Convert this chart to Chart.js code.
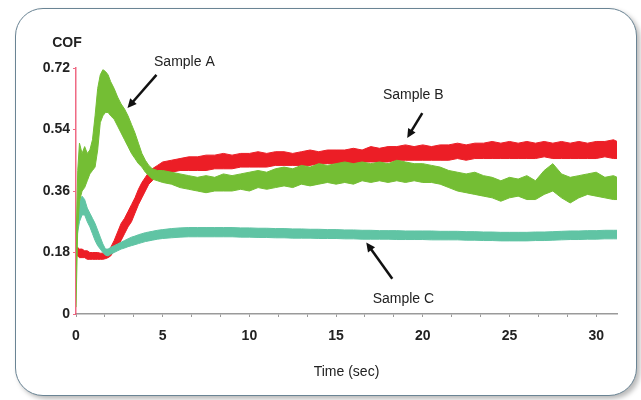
<!DOCTYPE html>
<html>
<head>
<meta charset="utf-8">
<script src="https://cdn.jsdelivr.net/npm/chart.js@4.4.0/dist/chart.umd.min.js"></script>
<style>
  body { margin: 0; background: #fff; }
  #wrap { position: relative; width: 641px; height: 400px; overflow: hidden; }
  #frame {
    position: absolute; left: 15px; top: 8px; width: 620px; height: 386px;
    border: 1.5px solid #6a8494; border-radius: 28px; background: #fff;
    box-shadow: 3px 3px 5px rgba(0,0,0,0.28);
  }
  #cof { position: absolute; left: 0; top: 0; }
</style>
</head>
<body>
<div id="wrap">
  <div id="frame"></div>
  <canvas id="cof" width="641" height="400"></canvas>
</div>
<script>
// time (sec)
const time = [
  0, 0.1, 0.2, 0.35, 0.5, 0.65, 0.8, 0.95, 1.1, 1.25, 1.4, 1.55, 1.7, 1.85,
  2.0, 2.2, 2.4, 2.6, 2.8, 3.0, 3.2, 3.4, 3.6, 3.8, 4.0, 4.2, 4.4, 4.7, 5.0,
  5.5, 6, 6.5, 7, 7.5, 8, 8.5, 9, 9.5, 10, 10.5, 11, 11.5, 12, 12.5, 13,
  13.5, 14, 14.5, 15, 15.5, 16, 16.5, 17, 17.5, 18, 18.5, 19, 19.5, 20,
  20.5, 21, 21.5, 22, 22.5, 23, 23.5, 24, 24.5, 25, 25.5, 26, 26.5, 27,
  27.5, 28, 28.5, 29, 29.5, 30, 30.5, 31, 31.2
];

// Sample A (green) - upper / lower edge of the noisy trace
const sampleAHi = [
  0.20, 0.42, 0.50, 0.47, 0.49, 0.47, 0.48, 0.51, 0.58, 0.66, 0.70, 0.715, 0.71, 0.70,
  0.68, 0.66, 0.635, 0.615, 0.60, 0.58, 0.555, 0.53, 0.50, 0.47, 0.45, 0.435, 0.425, 0.42, 0.42,
  0.415, 0.41, 0.405, 0.40, 0.405, 0.40, 0.41, 0.405, 0.41, 0.415, 0.42, 0.415, 0.425, 0.43, 0.425, 0.435,
  0.43, 0.44, 0.435, 0.44, 0.445, 0.44, 0.445, 0.44, 0.445, 0.44, 0.45, 0.445, 0.44, 0.44,
  0.435, 0.43, 0.42, 0.415, 0.41, 0.415, 0.405, 0.40, 0.39, 0.40, 0.395, 0.405, 0.39, 0.42,
  0.44, 0.41, 0.40, 0.405, 0.41, 0.415, 0.40, 0.405, 0.40
];
const sampleALo = [
  0.02, 0.25, 0.33, 0.36, 0.37, 0.39, 0.41, 0.42, 0.43, 0.48, 0.56, 0.58, 0.59, 0.59,
  0.58, 0.57, 0.55, 0.53, 0.51, 0.49, 0.47, 0.455, 0.44, 0.43, 0.415, 0.405, 0.395, 0.39, 0.385,
  0.38, 0.37, 0.365, 0.36, 0.355, 0.36, 0.36, 0.36, 0.365, 0.36, 0.37, 0.365, 0.37, 0.375, 0.37, 0.38,
  0.375, 0.38, 0.385, 0.38, 0.385, 0.38, 0.39, 0.385, 0.39, 0.385, 0.39, 0.385, 0.39, 0.385,
  0.385, 0.38, 0.37, 0.36, 0.355, 0.35, 0.345, 0.34, 0.33, 0.34, 0.345, 0.335, 0.335, 0.35,
  0.36, 0.34, 0.325, 0.34, 0.35, 0.345, 0.34, 0.335, 0.335
];

// Sample B (red)
const sampleBHi = [
  0.19, 0.195, 0.19, 0.19, 0.185, 0.185, 0.18, 0.18, 0.18, 0.18, 0.178, 0.178, 0.18, 0.185,
  0.195, 0.215, 0.24, 0.265, 0.28, 0.30, 0.32, 0.34, 0.365, 0.385, 0.40, 0.415, 0.425, 0.435, 0.445,
  0.45, 0.455, 0.46, 0.46, 0.465, 0.465, 0.47, 0.465, 0.47, 0.47, 0.475, 0.47, 0.475, 0.475, 0.47, 0.475,
  0.48, 0.475, 0.48, 0.48, 0.48, 0.485, 0.48, 0.49, 0.485, 0.49, 0.49, 0.495, 0.49, 0.495,
  0.49, 0.495, 0.495, 0.50, 0.495, 0.50, 0.50, 0.505, 0.50, 0.505, 0.50, 0.505, 0.50, 0.505,
  0.50, 0.505, 0.50, 0.505, 0.50, 0.505, 0.505, 0.51, 0.505
];
const sampleBLo = [
  0.17, 0.17, 0.165, 0.165, 0.165, 0.16, 0.16, 0.16, 0.16, 0.16, 0.16, 0.16, 0.162, 0.165,
  0.17, 0.185, 0.20, 0.215, 0.235, 0.255, 0.27, 0.295, 0.32, 0.34, 0.36, 0.38, 0.39, 0.405, 0.415,
  0.415, 0.42, 0.42, 0.42, 0.42, 0.425, 0.425, 0.425, 0.43, 0.43, 0.43, 0.43, 0.435, 0.435, 0.435, 0.435,
  0.435, 0.44, 0.44, 0.44, 0.44, 0.44, 0.445, 0.445, 0.445, 0.445, 0.45, 0.45, 0.45, 0.45,
  0.45, 0.45, 0.45, 0.455, 0.45, 0.455, 0.455, 0.455, 0.455, 0.455, 0.455, 0.455, 0.455, 0.46,
  0.455, 0.455, 0.455, 0.455, 0.455, 0.455, 0.46, 0.455, 0.455
];

// Sample C (teal)
const sampleCHi = [
  0.25, 0.30, 0.33, 0.345, 0.335, 0.31, 0.295, 0.28, 0.265, 0.245, 0.225, 0.205, 0.19, 0.19,
  0.195, 0.20, 0.205, 0.21, 0.215, 0.22, 0.225, 0.228, 0.232, 0.235, 0.238, 0.24, 0.242, 0.245, 0.247,
  0.25, 0.252, 0.253, 0.253, 0.253, 0.253, 0.253, 0.253, 0.252, 0.252, 0.251, 0.251, 0.25, 0.25, 0.249, 0.249,
  0.248, 0.248, 0.247, 0.247, 0.246, 0.246, 0.245, 0.245, 0.244, 0.244, 0.244, 0.243, 0.243, 0.243,
  0.243, 0.242, 0.242, 0.242, 0.241, 0.241, 0.24, 0.24, 0.239, 0.239, 0.239, 0.239, 0.24, 0.24,
  0.241, 0.242, 0.243, 0.243, 0.244, 0.244, 0.245, 0.245, 0.245
];
const sampleCLo = [
  0.20, 0.24, 0.27, 0.29, 0.29, 0.27, 0.255, 0.235, 0.215, 0.20, 0.19, 0.18, 0.172, 0.17,
  0.175, 0.18, 0.185, 0.19, 0.193, 0.197, 0.20, 0.203, 0.206, 0.209, 0.212, 0.214, 0.216, 0.219, 0.221,
  0.223, 0.225, 0.226, 0.226, 0.226, 0.226, 0.226, 0.226, 0.225, 0.225, 0.224, 0.224, 0.223, 0.223, 0.222, 0.222,
  0.222, 0.221, 0.221, 0.221, 0.22, 0.22, 0.219, 0.219, 0.219, 0.219, 0.218, 0.218, 0.218, 0.218,
  0.217, 0.217, 0.217, 0.217, 0.216, 0.216, 0.215, 0.215, 0.214, 0.214, 0.214, 0.214, 0.215, 0.215,
  0.216, 0.217, 0.218, 0.218, 0.219, 0.219, 0.22, 0.22, 0.22
];

const yTicks = [0, 0.18, 0.36, 0.54, 0.72];
const xLabels = [0, 5, 10, 15, 20, 25, 30];

// text labels with arrows, in data units: [text, textX, textY, fromX, fromY, toX, toY]
const notes = [
  ['Sample A', 6.25, 0.738, 4.64, 0.70, 2.97, 0.603],
  ['Sample B', 19.45, 0.641, 19.97, 0.588, 19.1, 0.515],
  ['Sample C', 18.88, 0.044, 18.24, 0.103, 16.74, 0.209]
];

const green = 'rgb(116,190,52)';
const red = 'rgb(236,30,38)';
const teal = 'rgb(96,196,164)';

function pts(arr) {
  return arr.map((v, i) => ({ x: time[i], y: v }));
}

function band(name, hi, lo, color) {
  return [
    { label: name, data: pts(hi), borderColor: color, backgroundColor: color,
      borderWidth: 1, pointRadius: 0, fill: '+1' },
    { label: name + ' lo', data: pts(lo), borderColor: color, backgroundColor: color,
      borderWidth: 1, pointRadius: 0, fill: false }
  ];
}

const textColor = '#222';
const font = 'Liberation Sans, Arial, sans-serif';

const notesPlugin = {
  id: 'notes',
  afterDraw(chart) {
    const ctx = chart.ctx;
    const x = chart.scales.x, y = chart.scales.y;
    const area = chart.chartArea;
    ctx.save();
    ctx.fillStyle = textColor;
    ctx.textAlign = 'center';
    ctx.textBaseline = 'middle';
    ctx.font = 'bold 14px ' + font;
    ctx.fillText('COF', area.left - 9, area.top - 25);
    ctx.font = '14px ' + font;
    ctx.fillText('Time (sec)', (area.left + area.right) / 2, area.bottom + 58);

    notes.forEach(n => {
      ctx.fillStyle = textColor;
      ctx.fillText(n[0], x.getPixelForValue(n[1]), y.getPixelForValue(n[2]));
      const x1 = x.getPixelForValue(n[3]), y1 = y.getPixelForValue(n[4]);
      const x2 = x.getPixelForValue(n[5]), y2 = y.getPixelForValue(n[6]);
      const a = Math.atan2(y2 - y1, x2 - x1);
      const head = 10;
      ctx.strokeStyle = '#111';
      ctx.fillStyle = '#111';
      ctx.lineWidth = 2.5;
      ctx.beginPath();
      ctx.moveTo(x1, y1);
      ctx.lineTo(x2 - Math.cos(a) * head * 0.8, y2 - Math.sin(a) * head * 0.8);
      ctx.stroke();
      ctx.beginPath();
      ctx.moveTo(x2, y2);
      ctx.lineTo(x2 - Math.cos(a - 0.45) * head, y2 - Math.sin(a - 0.45) * head);
      ctx.lineTo(x2 - Math.cos(a + 0.45) * head, y2 - Math.sin(a + 0.45) * head);
      ctx.closePath();
      ctx.fill();
    });
    ctx.restore();
  }
};

new Chart(document.getElementById('cof').getContext('2d'), {
  type: 'line',
  data: {
    datasets: [
      ...band('Sample A', sampleAHi, sampleALo, green),
      ...band('Sample C', sampleCHi, sampleCLo, teal),
      ...band('Sample B', sampleBHi, sampleBLo, red)
    ]
  },
  options: {
    responsive: false,
    animation: false,
    layout: { padding: { top: 68, right: 24, left: 0, bottom: 0 } },
    plugins: { legend: { display: false }, tooltip: { enabled: false } },
    elements: { line: { tension: 0 } },
    scales: {
      x: {
        type: 'linear',
        min: 0,
        max: 31.2,
        afterFit: s => { s.height = 86; },
        border: { color: '#9a9a9a', width: 1.5 },
        grid: { drawOnChartArea: false, color: '#9a9a9a', tickLength: 3 },
        ticks: {
          stepSize: 5 / 3,
          includeBounds: false,
          autoSkip: false,
          maxRotation: 0,
          padding: 11,
          color: textColor,
          font: { family: font, size: 14, weight: 'bold' },
          callback: v => {
            const k = Math.round(v);
            return (Math.abs(v - k) < 1e-6 && xLabels.includes(k)) ? String(k) : '';
          }
        }
      },
      y: {
        min: 0,
        max: 0.72,
        afterFit: s => { s.width = 76; },
        afterBuildTicks: s => { s.ticks = yTicks.map(v => ({ value: v })); },
        border: { color: 'rgba(236,80,110,0.85)', width: 1.5, dash: [2, 2] },
        grid: { drawOnChartArea: false, color: 'rgba(236,80,110,0.85)', tickLength: 3 },
        ticks: {
          padding: 3,
          color: textColor,
          font: { family: font, size: 14, weight: 'bold' },
          callback: v => v === 0 ? '0' : v.toFixed(2)
        }
      }
    }
  },
  plugins: [notesPlugin]
});
</script>
</body>
</html>
